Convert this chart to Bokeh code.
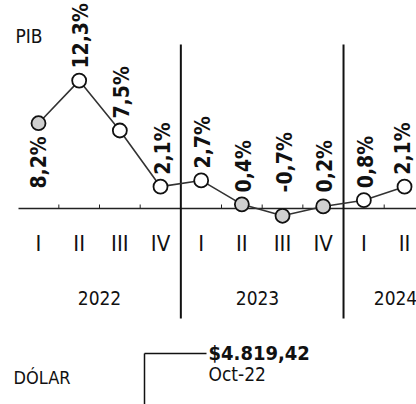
import math
from bokeh.plotting import figure
from bokeh.models import Range1d
from bokeh.core.properties import value
from bokeh.embed import file_html
from bokeh.resources import INLINE

# ---- data ----
quarters = ["I", "II", "III", "IV", "I", "II", "III", "IV", "I", "II"]
years = ["2022", "2023", "2024"]
pib = [8.2, 12.3, 7.5, 2.1, 2.7, 0.4, -0.7, 0.2, 0.8, 2.1]
dolar_value = "$4.819,42"
dolar_date = "Oct-22"

# ---- styling ----
FONT = "DejaVu Sans Condensed"
W, H = 416, 404
X0, DX = 38.0, 40.67   # px of first quarter, px per quarter
Y0, DY = 208.0, 10.4   # px of zero line, px per percent point


def X(px):
    return (px - X0) / DX


def Y(py):
    return (Y0 - py) / DY


p = figure(width=W, height=H, output_backend="svg", toolbar_location=None,
           x_range=Range1d(X(0), X(W)), y_range=Range1d(Y(H), Y(0)),
           min_border=0)
p.axis.visible = False
p.grid.visible = False
p.outline_line_color = None
p.background_fill_color = "white"
p.border_fill_color = "white"

xs = list(range(len(pib)))

# zero line and small ticks between quarters
p.segment(x0=[X(18)], y0=[0], x1=[X(420)], y1=[0], line_color="#222", line_width=1.5)
tick_x = [i + 0.5 for i in range(len(pib) - 1) if i not in (3, 7)]
p.segment(x0=tick_x, y0=[0] * len(tick_x), x1=tick_x, y1=[Y(204)] * len(tick_x),
          line_color="#222", line_width=1)

# year separators
sep = [3.5, 7.5]
p.segment(x0=sep, y0=[Y(44)] * 2, x1=sep, y1=[Y(318)] * 2, line_color="#111", line_width=2)

# line + markers
fills = ["#cfcfcf", "white", "white", "white", "white", "#cfcfcf", "#cfcfcf", "#cfcfcf", "white", "white"]
p.line(xs, pib, line_color="#333", line_width=1.6)
p.scatter(xs, pib, size=14, fill_color=fills, line_color="#111", line_width=1.8)

# value labels (rotated)
labels = [f"{v:.1f}".replace(".", ",") + "%" for v in pib]
above_x, above_y, above_t = [], [], []
below_x, below_y, below_t = [], [], []
for i, v in enumerate(pib):
    if i == 0:
        below_x.append(i)
        below_y.append(v - 1.25)
        below_t.append(labels[i])
    else:
        above_x.append(min(i + 0.05, X(402)))
        above_y.append(max(v + 1.15, 1.55))
        above_t.append(labels[i])
p.text(above_x, above_y, text=above_t, angle=math.pi / 2, text_align="left",
       text_baseline="middle", text_font=value(FONT), text_font_style="bold",
       text_font_size="21px", text_color="#111")
p.text(below_x, below_y, text=below_t, angle=math.pi / 2, text_align="right",
       text_baseline="middle", text_font=value(FONT), text_font_style="bold",
       text_font_size="21px", text_color="#111")

# quarter labels
p.text(xs, [Y(243)] * len(xs), text=quarters, text_align="center", text_baseline="middle",
       text_font=value(FONT), text_font_size="22px", text_color="#111")

# year labels
p.text([X(99), X(257), X(395)], [Y(297)] * 3, text=years, text_align="center",
       text_baseline="middle", text_font=value(FONT), text_font_size="19px", text_color="#111")

# titles
p.text([X(15)], [Y(35)], text=["PIB"], text_align="left", text_baseline="middle",
       text_font=value(FONT), text_font_size="19px", text_color="#111")
p.text([X(13)], [Y(377)], text=["DÓLAR"], text_align="left", text_baseline="middle",
       text_font=value(FONT), text_font_size="18px", text_color="#111")

# dollar bracket
p.segment(x0=[X(144), X(144)], y0=[Y(353), Y(353)], x1=[X(206), X(144)], y1=[Y(353), Y(410)],
          line_color="#111", line_width=1.5)
p.text([X(208)], [Y(352)], text=[dolar_value], text_align="left", text_baseline="middle",
       text_font=value(FONT), text_font_style="bold", text_font_size="20px", text_color="#111")
p.text([X(208)], [Y(373)], text=[dolar_date], text_align="left", text_baseline="middle",
       text_font=value(FONT), text_font_size="19px", text_color="#111")

open("out.html", "w").write(file_html(p, INLINE))
